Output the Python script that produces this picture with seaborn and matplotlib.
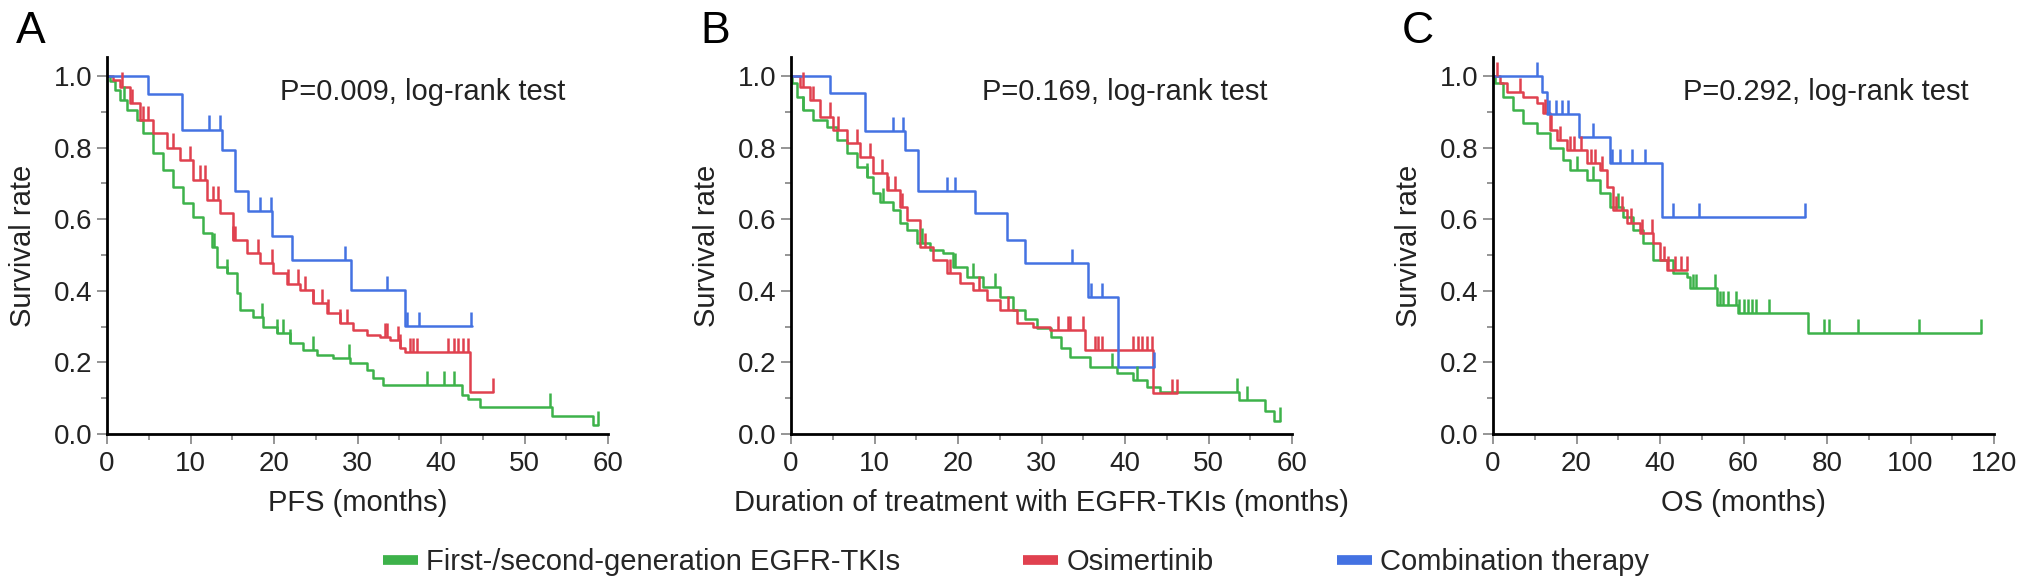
import numpy as np
import pandas as pd
import matplotlib
matplotlib.use("Agg")
import matplotlib.pyplot as plt
from matplotlib.lines import Line2D
from matplotlib.ticker import MultipleLocator, FormatStrFormatter
import seaborn as sns

groups = ["First-/second-generation EGFR-TKIs", "Osimertinib", "Combination therapy"]
colors = ["#3db24a", "#e0414f", "#4472e2"]

# A: PFS
pfs_first_t = [0, 0.4, 1.0, 1.6, 2.4, 3.6, 4.3, 5.5, 6.7, 7.9, 9.1, 10.3, 11.5, 12.6, 13.2, 14.4, 15.6, 15.9,
               17.5, 18.7, 20.4, 21.9, 23.5, 25.1, 27.1, 29.1, 31.1, 31.9, 33.1, 42.5, 43.2, 44.7, 53.3, 58.2, 58.8]
pfs_first_s = [1.0, 0.985, 0.96, 0.933, 0.905, 0.877, 0.84, 0.785, 0.737, 0.69, 0.645, 0.606, 0.561, 0.522, 0.466,
               0.45, 0.394, 0.346, 0.327, 0.299, 0.282, 0.254, 0.235, 0.221, 0.212, 0.198, 0.179, 0.156, 0.137,
               0.109, 0.098, 0.075, 0.05, 0.025, 0.025]
pfs_first_cens = [2.0, 12.8, 14.4, 18.6, 20.4, 21.1, 21.9, 24.7, 29.0, 38.3, 40.3, 41.5, 53.0, 58.8]

pfs_osi_t = [0, 0.7, 1.6, 2.8, 4.0, 5.5, 7.2, 8.7, 10.3, 12.0, 13.5, 15.1, 16.8, 18.3, 19.9, 21.6, 23.1, 24.7,
             26.3, 27.9, 29.5, 31.1, 32.7, 33.9, 35.1, 35.7, 43.5, 46.2]
pfs_osi_s = [1.0, 0.99, 0.97, 0.925, 0.877, 0.84, 0.80, 0.765, 0.71, 0.654, 0.617, 0.542, 0.505, 0.477, 0.45,
             0.42, 0.402, 0.366, 0.338, 0.31, 0.29, 0.277, 0.271, 0.263, 0.24, 0.229, 0.117, 0.117]
pfs_osi_cens = [1.8, 3.0, 4.3, 4.9, 7.9, 9.9, 11.1, 11.7, 12.7, 13.3, 15.1, 15.3, 18.1, 19.8, 21.7, 22.9, 23.7,
                24.7, 25.7, 26.5, 27.9, 28.7, 33.3, 33.5, 34.9, 35.1, 36.3, 36.6, 37.1, 40.8, 41.5, 42.0, 42.6,
                43.2, 46.2]

pfs_combo_t = [0, 4.9, 9.0, 13.8, 15.3, 16.9, 19.8, 22.1, 29.2, 35.7, 43.7]
pfs_combo_s = [1.0, 0.95, 0.85, 0.793, 0.68, 0.623, 0.553, 0.486, 0.402, 0.302, 0.302]
pfs_combo_cens = [12.2, 13.5, 18.3, 19.6, 28.5, 33.5, 35.9, 37.4, 43.6]

# B: duration of treatment
dur_first_t = [0, 0.1, 0.7, 1.4, 2.6, 4.3, 5.5, 6.7, 7.9, 9.1, 9.8, 10.7, 12.2, 13.1, 13.9, 15.1, 16.6, 18.2,
               19.4, 21.1, 23.0, 25.0, 26.6, 28.0, 29.5, 31.1, 32.3, 33.4, 35.8, 39.0, 41.0, 42.6, 44.2, 53.6,
               56.8, 57.8, 58.6]
dur_first_s = [1.0, 0.98, 0.94, 0.905, 0.877, 0.858, 0.821, 0.785, 0.746, 0.718, 0.673, 0.648, 0.626, 0.59,
               0.57, 0.534, 0.514, 0.505, 0.466, 0.439, 0.41, 0.383, 0.346, 0.32, 0.295, 0.27, 0.24, 0.215,
               0.187, 0.17, 0.151, 0.131, 0.117, 0.095, 0.065, 0.035, 0.035]
dur_first_cens = [1.4, 9.1, 11.0, 15.7, 19.6, 21.8, 24.4, 38.5, 41.4, 53.4, 54.6, 58.6]

dur_osi_t = [0, 1.1, 2.3, 3.5, 5.0, 6.7, 8.3, 9.8, 11.5, 13.1, 13.9, 15.4, 17.0, 18.7, 20.2, 21.8, 23.5, 25.0,
             27.1, 29.0, 31.0, 35.2, 43.4, 46.2]
dur_osi_s = [1.0, 0.97, 0.933, 0.886, 0.849, 0.813, 0.774, 0.729, 0.682, 0.634, 0.598, 0.522, 0.486, 0.45,
             0.422, 0.402, 0.374, 0.346, 0.31, 0.30, 0.29, 0.235, 0.114, 0.114]
dur_osi_cens = [1.4, 2.6, 4.7, 5.6, 7.9, 9.5, 10.9, 11.6, 12.5, 13.3, 16.0, 19.0, 22.5, 26.0, 32.0, 33.2, 33.4,
                35.0, 36.4, 36.8, 37.2, 40.9, 41.5, 42.0, 42.6, 43.2, 45.6, 46.2]

dur_combo_t = [0, 4.7, 8.9, 13.7, 15.2, 22.0, 25.9, 28.0, 35.6, 39.2, 43.5]
dur_combo_s = [1.0, 0.952, 0.846, 0.793, 0.679, 0.617, 0.542, 0.477, 0.383, 0.188, 0.188]
dur_combo_cens = [12.2, 13.4, 18.7, 19.6, 33.6, 35.9, 37.2, 43.5]

# C: OS
os_first_t = [0, 0.5, 2.4, 4.8, 7.2, 10.5, 13.7, 16.8, 18.4, 22.5, 25.6, 28.0, 31.1, 33.5, 36.0, 38.3, 43.1,
              46.4, 47.2, 53.6, 58.7, 75.4, 117.0]
os_first_s = [1.0, 0.98, 0.94, 0.905, 0.868, 0.84, 0.80, 0.765, 0.737, 0.709, 0.673, 0.634, 0.606, 0.57, 0.533,
              0.486, 0.45, 0.439, 0.408, 0.36, 0.338, 0.282, 0.282]
os_first_cens = [20.0, 24.0, 30.0, 47.8, 48.6, 53.2, 54.4, 55.2, 56.4, 58.2, 59.0, 60.0, 61.0, 62.0, 63.0,
                 66.0, 79.2, 80.4, 87.4, 102.0, 117.0]

os_osi_t = [0, 1.7, 3.4, 7.2, 10.5, 12.0, 13.7, 15.3, 17.7, 22.5, 25.6, 27.3, 28.7, 32.1, 35.2, 38.3, 40.0,
            41.6, 46.5]
os_osi_s = [1.0, 0.98, 0.955, 0.94, 0.925, 0.897, 0.85, 0.82, 0.793, 0.757, 0.737, 0.69, 0.626, 0.59, 0.561,
            0.533, 0.486, 0.458, 0.458]
os_osi_cens = [1.0, 6.5, 12.5, 14.0, 16.0, 18.5, 19.5, 21.0, 23.5, 24.5, 26.0, 29.5, 31.0, 33.0, 35.8, 38.0,
               41.0, 42.0, 43.5, 45.0, 46.5]

os_combo_t = [0, 11.8, 13.0, 20.5, 28.0, 40.4, 74.7]
os_combo_s = [1.0, 0.955, 0.894, 0.83, 0.757, 0.606, 0.606]
os_combo_cens = [10.5, 13.5, 15.0, 16.5, 18.0, 24.0, 28.5, 30.4, 33.2, 36.4, 43.1, 49.3, 74.7]

x_labels = ["PFS (months)", "Duration of treatment with EGFR-TKIs (months)", "OS (months)"]
p_texts = ["P=0.009, log-rank test", "P=0.169, log-rank test", "P=0.292, log-rank test"]
letters = ["A", "B", "C"]

sns.set_theme(style="ticks")
plt.rcParams["font.family"] = ["Liberation Sans", "DejaVu Sans"]

FS = 21
TICK_FS = 20
LW = 1.8


def km_frame(times, survs):
    parts = [pd.DataFrame({"time": t, "surv": s, "group": g}) for g, t, s in zip(groups, times, survs)]
    return pd.concat(parts, ignore_index=True)


def draw_panel(ax, times, survs, cens, xmax, xstep, xlabel, ptext, px):
    df = km_frame(times, survs)
    sns.lineplot(data=df, x="time", y="surv", hue="group", hue_order=groups, palette=colors,
                 estimator=None, sort=False, drawstyle="steps-post", linewidth=LW,
                 legend=False, ax=ax)
    # censoring ticks sit on the curve
    for t, s, c, col in zip(times, survs, cens, colors):
        idx = np.searchsorted(t, c, side="right") - 1
        y0 = np.asarray(s)[idx]
        ax.vlines(c, y0, y0 + 0.04, color=col, linewidth=LW)

    ax.set_xlim(0, xmax)
    ax.set_ylim(0, 1.053)
    ax.xaxis.set_major_locator(MultipleLocator(xstep))
    ax.xaxis.set_minor_locator(MultipleLocator(xstep / 2))
    ax.yaxis.set_major_locator(MultipleLocator(0.2))
    ax.yaxis.set_minor_locator(MultipleLocator(0.1))
    ax.yaxis.set_major_formatter(FormatStrFormatter("%.1f"))
    ax.tick_params(which="major", length=7, width=1.3, color="#8c8c8c", labelsize=TICK_FS,
                   labelcolor="#222222")
    ax.tick_params(which="minor", length=4.5, width=1.3, color="#8c8c8c")
    ax.tick_params(axis="x", which="major", pad=5)
    ax.tick_params(axis="y", which="major", pad=3.5)
    sns.despine(ax=ax)
    for side in ["left", "bottom"]:
        ax.spines[side].set_linewidth(2.0)
        ax.spines[side].set_color("black")
    ax.set_xlabel(xlabel, fontsize=FS, color="#222222")
    ax.set_ylabel("Survival rate", fontsize=FS, color="#222222")
    ax.xaxis.set_label_coords(0.5, -0.145)
    ax.yaxis.set_label_coords(-0.14, 0.5)
    ax.text(px, 0.907, ptext, transform=ax.transAxes, fontsize=FS, color="#222222",
            ha="left", va="center")


fig = plt.figure(figsize=(20.32, 5.84), dpi=100)
panel_lefts = [107, 791, 1493]
panel_data = [
    ([pfs_first_t, pfs_osi_t, pfs_combo_t], [pfs_first_s, pfs_osi_s, pfs_combo_s],
     [pfs_first_cens, pfs_osi_cens, pfs_combo_cens], 60, 10, 0.345),
    ([dur_first_t, dur_osi_t, dur_combo_t], [dur_first_s, dur_osi_s, dur_combo_s],
     [dur_first_cens, dur_osi_cens, dur_combo_cens], 60, 10, 0.381),
    ([os_first_t, os_osi_t, os_combo_t], [os_first_s, os_osi_s, os_combo_s],
     [os_first_cens, os_osi_cens, os_combo_cens], 120, 20, 0.38),
]

for i, (left, pdata) in enumerate(zip(panel_lefts, panel_data)):
    ax = fig.add_axes([left / 2032, 150 / 584, 501 / 2032, 377 / 584])
    times, survs, cens, xmax, xstep, px = pdata
    draw_panel(ax, times, survs, cens, xmax, xstep, x_labels[i], p_texts[i], px)
    fig.text((left - 91) / 2032, 1 - 11 / 584, letters[i], fontsize=32, ha="left", va="top",
             color="black")

handles = [Line2D([], [], color=c, linewidth=7, solid_capstyle="butt") for c in colors]
fig.legend(handles, groups, loc="center", bbox_to_anchor=(0.5, 22 / 584), ncol=3, frameon=False,
           fontsize=FS, handlelength=1.2, handletextpad=0.3, columnspacing=4.2)

fig.savefig("out.png", dpi=100)
